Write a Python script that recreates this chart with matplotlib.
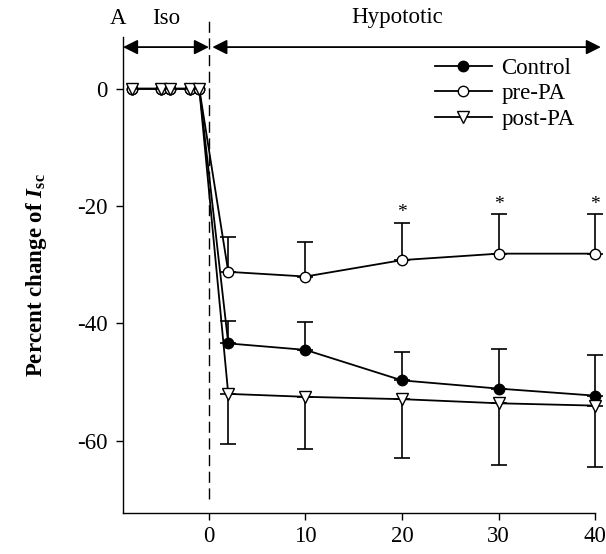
import matplotlib
matplotlib.use("Agg")
import matplotlib.pyplot as plt
import numpy as np

plt.rcParams['font.family'] = ['Liberation Serif', 'DejaVu Serif']
plt.rcParams['mathtext.fontset'] = 'custom'
plt.rcParams['mathtext.rm'] = 'Liberation Serif'
plt.rcParams['mathtext.it'] = 'Liberation Serif:italic'
plt.rcParams['mathtext.bf'] = 'Liberation Serif:bold'
plt.rcParams['mathtext.bfit'] = 'Liberation Serif:italic:bold'

# Data
time = [-8, -5, -4, -2, -1, 2, 10, 20, 30, 40]
control = [0, 0, 0, 0, 0, -43.4, -44.5, -49.7, -51.1, -52.3]
control_err = [0, 0, 0, 0, 0, 3.9, 4.8, 4.9, 6.7, 6.9]
pre_pa = [0, 0, 0, 0, 0, -31.2, -32.0, -29.2, -28.1, -28.1]
pre_pa_err = [0, 0, 0, 0, 0, 5.9, 5.8, 6.4, 6.7, 6.7]
post_pa = [0, 0, 0, 0, 0, -52.0, -52.5, -52.9, -53.6, -54.0]
post_pa_err = [0, 0, 0, 0, 0, 8.6, 8.9, 10.0, 10.5, 10.5]
sig_times = [20, 30, 40]
xticks = [0, 10, 20, 30, 40]
yticks = [0, -20, -40, -60]

fig = plt.figure(figsize=(6.06, 5.54), dpi=100)
ax = fig.add_axes([0.203, 0.074, 0.779, 0.859])

fs = 16.5
lw = 1.2
plw = 1.3
cap = 6
t = np.array(time)

def errs(e, up):
    e = np.array(e)
    z = np.zeros_like(e)
    return [z, e] if up else [e, z]

# error bars (one-sided)
for vals, e, up in [(pre_pa, pre_pa_err, True), (control, control_err, True), (post_pa, post_pa_err, False)]:
    eb = ax.errorbar(t[5:], np.array(vals)[5:], yerr=errs(e[5:], up),
                     fmt='none', ecolor='black', elinewidth=lw, capsize=cap, capthick=lw, zorder=2)
    for art in list(eb.lines[1]) + list(eb.lines[2]):
        art.set_clip_on(False)

ax.plot(time, control, '-o', color='black', mfc='black', mec='black', ms=7.5, lw=plw,
        label='Control', zorder=3, clip_on=False)
ax.plot(time, pre_pa, '-o', color='black', mfc='white', mec='black', ms=7.5, lw=plw,
        label='pre-PA', zorder=3, clip_on=False)
ax.plot(time, post_pa, '-v', color='black', mfc='white', mec='black', ms=8, lw=plw,
        label='post-PA', zorder=3, clip_on=False)

# significance stars
for st in sig_times:
    i = time.index(st)
    ax.text(st, pre_pa[i] + pre_pa_err[i] + 0.3, '*', ha='center', va='bottom', fontsize=14, clip_on=False)

ax.set_xlim(-8.9, 40)
ax.set_ylim(-72.3, 8.8)
ax.set_xticks(xticks)
ax.set_yticks(yticks)
ax.set_yticklabels([str(v) for v in yticks])
ax.tick_params(direction='out', length=5, width=1, labelsize=fs, pad=6)
ax.tick_params(axis='x', pad=4.5)
for s in ['top', 'right']:
    ax.spines[s].set_visible(False)
for s in ['left', 'bottom']:
    ax.spines[s].set_linewidth(1.0)

ax.axvline(0, color='black', lw=1, ls=(0, (8, 4)), ymin=0.03, ymax=1.04, clip_on=False, zorder=1)

ax.set_ylabel('Percent change of $\\mathbfit{I}_{\\mathbf{sc}}$', fontsize=fs, fontweight='bold', labelpad=20)

# top arrows
ya = 7.1
ax.annotate('', xy=(-8.9, ya), xytext=(0, ya), xycoords='data',
            arrowprops=dict(arrowstyle='<|-|>', color='black', lw=1.3, mutation_scale=22, shrinkA=0, shrinkB=0),
            annotation_clip=False)
ax.annotate('', xy=(0.35, ya), xytext=(40.6, ya), xycoords='data',
            arrowprops=dict(arrowstyle='<|-|>', color='black', lw=1.3, mutation_scale=22, shrinkA=0, shrinkB=0),
            annotation_clip=False)
fig.text(110/606, 1 - 18/554, 'A', fontsize=fs, ha='left', va='center')
fig.text(152/606, 1 - 18/554, 'Iso', fontsize=fs, ha='left', va='center')
fig.text(397/606, 1 - 18/554, 'Hypototic', fontsize=fs, ha='center', va='center')

leg = ax.legend(loc='upper right', bbox_to_anchor=(1.0, 1.0), frameon=False, fontsize=fs,
                handlelength=2.5, handletextpad=0.4, labelspacing=0.2, borderaxespad=0.5)

fig.savefig('out.png', dpi=100)
